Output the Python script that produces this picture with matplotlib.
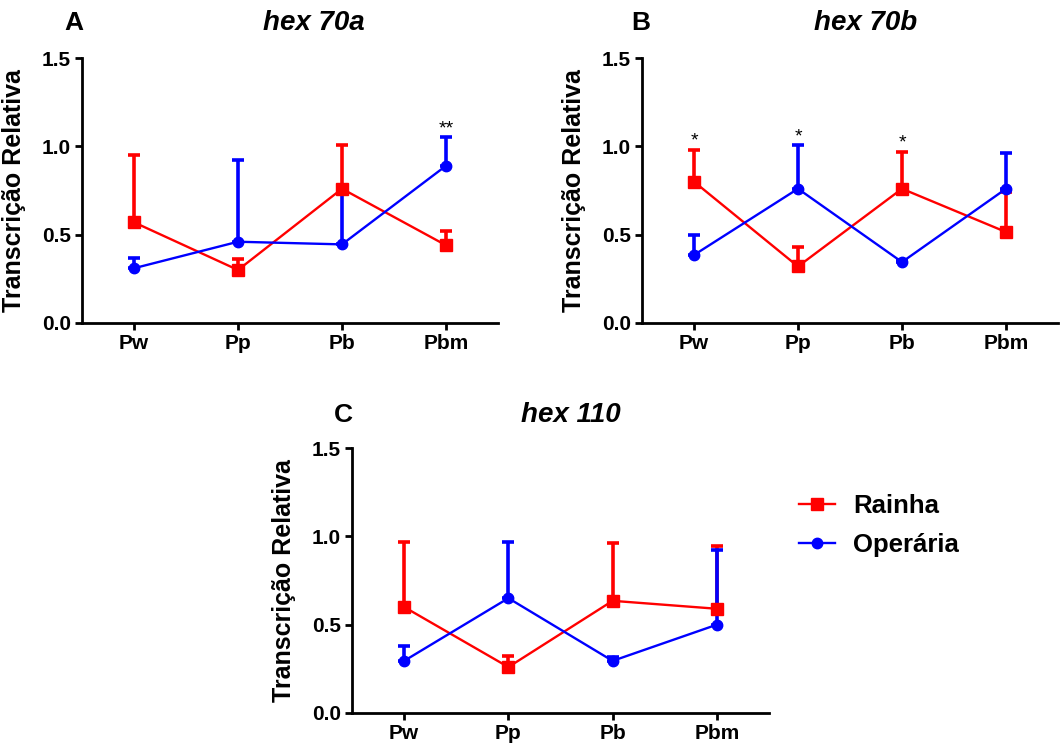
import numpy as np
import matplotlib
matplotlib.use("Agg")
import matplotlib.pyplot as plt
from matplotlib.ticker import FormatStrFormatter

plt.rcParams["font.family"] = ["Liberation Sans", "DejaVu Sans"]
plt.rcParams["font.weight"] = "bold"

stages = ["Pw", "Pp", "Pb", "Pbm"]
genes = ["hex 70a", "hex 70b", "hex 110"]
panel_letters = ["A", "B", "C"]

# means and upper error (SEM) for queens (Rainha) and workers (Operária)
rainha_mean = {
    "hex 70a": [0.57, 0.30, 0.76, 0.44],
    "hex 70b": [0.80, 0.32, 0.76, 0.515],
    "hex 110": [0.60, 0.26, 0.635, 0.59],
}
rainha_err = {
    "hex 70a": [0.38, 0.065, 0.245, 0.08],
    "hex 70b": [0.18, 0.11, 0.21, 0.225],
    "hex 110": [0.37, 0.065, 0.325, 0.355],
}
operaria_mean = {
    "hex 70a": [0.31, 0.46, 0.445, 0.89],
    "hex 70b": [0.385, 0.76, 0.345, 0.76],
    "hex 110": [0.295, 0.65, 0.295, 0.50],
}
operaria_err = {
    "hex 70a": [0.06, 0.465, 0.295, 0.16],
    "hex 70b": [0.115, 0.245, 0.01, 0.205],
    "hex 110": [0.085, 0.32, 0.02, 0.42],
}
# significance marks: (stage index, which series, label)
signif = {
    "hex 70a": [(3, "operaria", "**")],
    "hex 70b": [(0, "rainha", "*"), (1, "operaria", "*"), (2, "rainha", "*")],
    "hex 110": [],
}

RED = "#ff0000"
BLUE = "#0000ff"

W, H = 1060, 744
fig = plt.figure(figsize=(W / 100, H / 100), dpi=100)

# axes boxes in pixels: left, top, right, bottom
boxes = [(82, 58, 498, 323), (642, 58, 1058, 323), (352, 448, 769, 713)]
title_pos = [(314, 23), (866, 23), (571, 415)]
letter_pos = [(74, 23), (641, 23), (343, 415)]

handles = None
for gene, letter, box, tpos, lpos in zip(genes, panel_letters, boxes, title_pos, letter_pos):
    l, t, r, b = box
    ax = fig.add_axes([l / W, 1 - b / H, (r - l) / W, (b - t) / H])
    x = np.arange(len(stages))

    rm, re_ = np.array(rainha_mean[gene]), np.array(rainha_err[gene])
    om, oe = np.array(operaria_mean[gene]), np.array(operaria_err[gene])

    ax.errorbar(x, rm, yerr=[np.zeros_like(re_), re_], fmt="none", ecolor=RED,
                elinewidth=2.6, capsize=4.5, capthick=2.6, zorder=2)
    ax.errorbar(x, om, yerr=[np.zeros_like(oe), oe], fmt="none", ecolor=BLUE,
                elinewidth=2.6, capsize=4.5, capthick=2.6, zorder=2)
    h1, = ax.plot(x, rm, color=RED, lw=1.7, marker="s", ms=8, label="Rainha", zorder=3)
    h2, = ax.plot(x, om, color=BLUE, lw=1.7, marker="o", ms=7.5, label="Operária", zorder=3)
    handles = [h1, h2]

    for i, which, txt in signif[gene]:
        top = (rm[i] + re_[i]) if which == "rainha" else (om[i] + oe[i])
        ax.annotate(txt, (x[i], top), xytext=(0, 0), textcoords="offset points",
                    ha="center", va="bottom", fontsize=14, fontweight="normal")

    ax.set_xlim(-0.5, 3.5)
    ax.set_ylim(0, 1.5)
    ax.set_yticks([0, 0.5, 1.0, 1.5])
    ax.yaxis.set_major_formatter(FormatStrFormatter("%.1f"))
    ax.set_xticks(x)
    ax.set_xticklabels(stages)
    for s in ["top", "right"]:
        ax.spines[s].set_visible(False)
    for s in ["left", "bottom"]:
        ax.spines[s].set_linewidth(2)
    ax.tick_params(width=2, length=5, labelsize=15, pad=3)
    for lab in ax.get_xticklabels() + ax.get_yticklabels():
        lab.set_fontweight("bold")
    ax.set_ylabel("Transcrição Relativa", fontsize=18, fontweight="bold")
    ax.yaxis.set_label_coords(-0.135, 0.5)

    fig.text(tpos[0] / W, 1 - tpos[1] / H, gene, ha="center", va="center",
             fontsize=20, fontweight="bold", style="italic")
    fig.text(lpos[0] / W, 1 - lpos[1] / H, letter, ha="center", va="center",
             fontsize=19, fontweight="bold")

fig.legend(handles=handles, loc="upper left", bbox_to_anchor=(786 / W, 1 - 481 / H),
           frameon=False, prop={"size": 18.5, "weight": "bold"}, handlelength=1.4,
           handletextpad=0.7, labelspacing=0.6, borderpad=0)

fig.savefig("out.png", dpi=100)
